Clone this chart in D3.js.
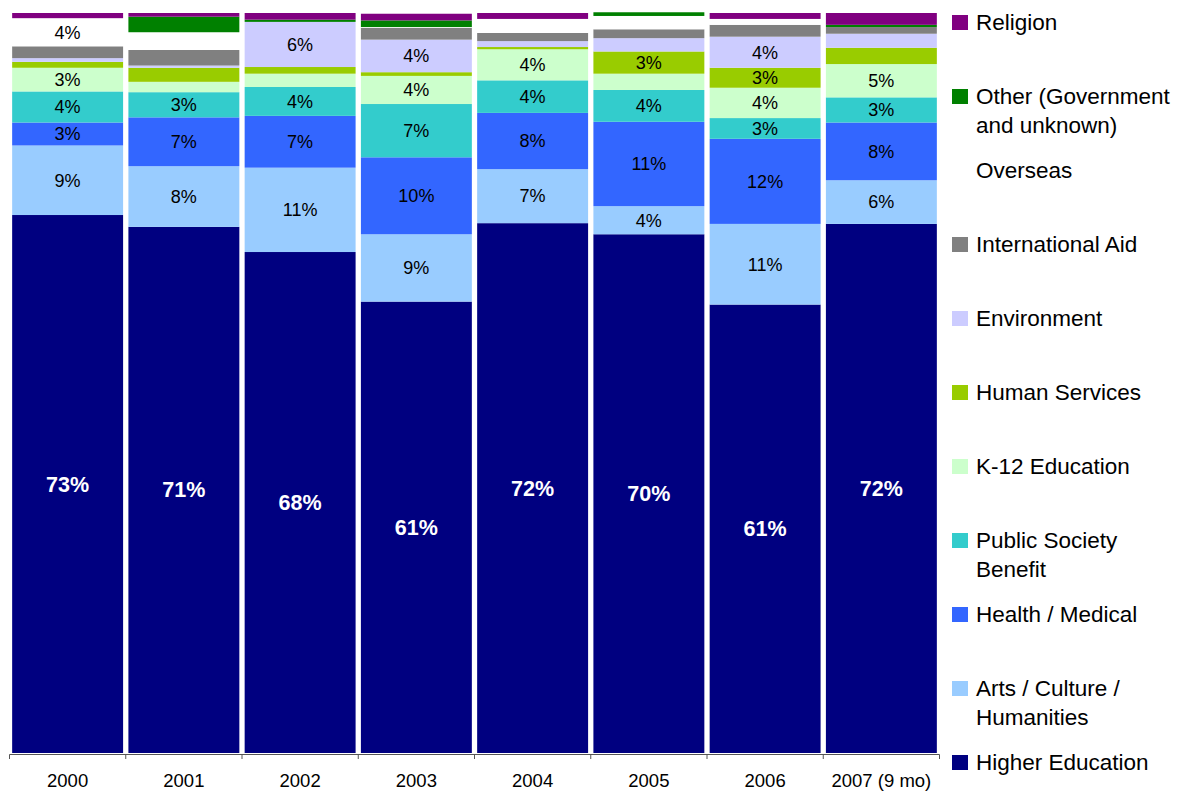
<!DOCTYPE html>
<html>
<head>
<meta charset="utf-8">
<script src="https://cdn.jsdelivr.net/npm/d3@7"></script>
<style>
  html, body { margin: 0; padding: 0; background: #ffffff; }
  svg { display: block; font-family: "Liberation Sans", Arial, sans-serif; }
</style>
</head>
<body>
<svg id="chart" width="1182" height="793"></svg>
<script>
// ---- Data (percent of total, per year) ----
const years = ["2000", "2001", "2002", "2003", "2004", "2005", "2006", "2007 (9 mo)"];

// Stack order: bottom to top
const categories = [
  "Higher Education",
  "Arts / Culture / Humanities",
  "Health / Medical",
  "Public Society Benefit",
  "K-12 Education",
  "Human Services",
  "Environment",
  "International Aid",
  "Overseas",
  "Other (Government and unknown)",
  "Religion"
];

const higherEducation = [72.7, 71.1, 67.7, 61.0, 71.6, 70.1, 60.6, 71.5];
const artsCulture     = [9.4, 8.2, 11.4, 9.1, 7.3, 3.8, 10.9, 5.9];
const healthMedical   = [3.1, 6.6, 7.0, 10.4, 7.6, 11.4, 11.5, 7.8];
const publicSociety   = [4.2, 3.4, 3.9, 7.2, 4.4, 4.3, 2.8, 3.4];
const k12Education    = [3.2, 1.4, 1.8, 3.8, 4.2, 2.2, 4.1, 4.5];
const humanServices   = [0.8, 1.9, 0.9, 0.5, 0.3, 3.0, 2.7, 2.2];
const environment     = [0.5, 0.3, 6.1, 4.4, 0.8, 1.8, 4.2, 1.9];
const internationalAid= [1.6, 2.1, 0.0, 1.6, 1.1, 1.2, 1.6, 0.9];
const overseas        = [3.8, 2.4, 0.0, 0.1, 1.9, 1.8, 0.8, 0.0];
const otherGov        = [0.0, 2.1, 0.3, 0.9, 0.0, 0.5, 0.0, 0.3];
const religion        = [0.7, 0.5, 0.9, 0.9, 0.8, 0.0, 0.8, 1.6];

const seriesValues = [higherEducation, artsCulture, healthMedical, publicSociety, k12Education,
  humanServices, environment, internationalAid, overseas, otherGov, religion];

const colors = ["#000080", "#99CCFF", "#3366FF", "#33CCCC", "#CCFFCC", "#99CC00",
  "#CCCCFF", "#808080", "#FFFFFF", "#008000", "#800080"];

// Legend text lines (top to bottom order = reverse of stack)
const legendLines = {
  "Religion": ["Religion"],
  "Other (Government and unknown)": ["Other (Government", "and unknown)"],
  "Overseas": ["Overseas"],
  "International Aid": ["International Aid"],
  "Environment": ["Environment"],
  "Human Services": ["Human Services"],
  "K-12 Education": ["K-12 Education"],
  "Public Society Benefit": ["Public Society", "Benefit"],
  "Health / Medical": ["Health / Medical"],
  "Arts / Culture / Humanities": ["Arts / Culture /", "Humanities"],
  "Higher Education": ["Higher Education"]
};

// ---- Build table ----
const table = years.map((y, i) => {
  const row = { year: y };
  categories.forEach((c, k) => { row[c] = seriesValues[k][i]; });
  return row;
});

const stack = d3.stack().keys(categories);
const stacked = stack(table);

const svg = d3.select("#chart");

const x = d3.scaleBand()
  .domain(years)
  .range([9.5, 939.5])
  .paddingInner(0.0456)
  .paddingOuter(0.0228);

const y = d3.scaleLinear().domain([0, 100]).range([753, 13]);

const color = d3.scaleOrdinal().domain(categories).range(colors);

// Bars
const layers = svg.append("g").selectAll("g")
  .data(stacked)
  .join("g")
  .attr("fill", d => color(d.key));

layers.selectAll("rect")
  .data(d => d.map(p => ({ p, key: d.key })))
  .join("rect")
  .attr("x", d => x(d.p.data.year))
  .attr("width", x.bandwidth())
  .attr("y", d => y(d.p[1]))
  .attr("height", d => Math.max(0, y(d.p[0]) - y(d.p[1])));

// Labels
const labelG = svg.append("g");
stacked.forEach(layer => {
  layer.forEach(p => {
    const v = p[1] - p[0];
    const r = Math.round(v);
    if (r < 3) return;
    const isHigher = layer.key === "Higher Education";
    labelG.append("text")
      .attr("x", x(p.data.year) + x.bandwidth() / 2)
      .attr("y", (y(p[0]) + y(p[1])) / 2)
      .attr("dy", "0.35em")
      .attr("text-anchor", "middle")
      .attr("font-size", isHigher ? 21.5 : 18)
      .attr("font-weight", isHigher ? "bold" : "normal")
      .attr("fill", isHigher ? "#ffffff" : "#000000")
      .text(r + "%");
  });
});

// Axis
const step = x.step();
const axisG = svg.append("g");
axisG.append("line")
  .attr("x1", x.range()[0]).attr("x2", x.range()[1])
  .attr("y1", 754.5).attr("y2", 754.5)
  .attr("stroke", "#555").attr("stroke-width", 1);
const boundaries = years.map(yr => x(yr) - (step - x.bandwidth()) / 2).concat([x.range()[1]]);
axisG.selectAll("line.tick")
  .data(boundaries)
  .join("line")
  .attr("class", "tick")
  .attr("x1", d => d).attr("x2", d => d)
  .attr("y1", 754.5).attr("y2", 759)
  .attr("stroke", "#555").attr("stroke-width", 1);
axisG.selectAll("text")
  .data(years)
  .join("text")
  .attr("x", d => x(d) + x.bandwidth() / 2)
  .attr("y", 781)
  .attr("dy", "0.35em")
  .attr("text-anchor", "middle")
  .attr("font-size", 18.5)
  .attr("fill", "#000")
  .text(d => d);

// Legend
const legendOrder = categories.slice().reverse();
const legend = svg.append("g");
legendOrder.forEach((c, i) => {
  const cy = 22 + i * 74;
  const g = legend.append("g");
  g.append("rect")
    .attr("x", 952).attr("y", cy - 7)
    .attr("width", 16).attr("height", 15)
    .attr("fill", color(c));
  legendLines[c].forEach((line, j) => {
    g.append("text")
      .attr("x", 976)
      .attr("y", cy + j * 29)
      .attr("dy", "0.35em")
      .attr("font-size", 22.5)
      .attr("fill", "#000")
      .text(line);
  });
});
</script>
</body>
</html>
